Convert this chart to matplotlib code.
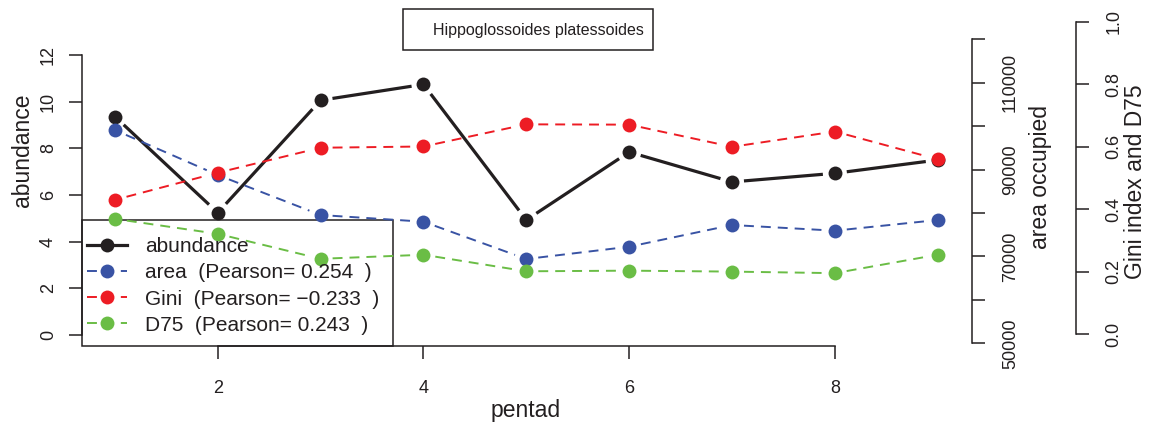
import matplotlib
matplotlib.use("Agg")
import matplotlib.pyplot as plt
from matplotlib.lines import Line2D
from matplotlib.patches import Rectangle
import numpy as np

# ---- data ----
pentad = [1, 2, 3, 4, 5, 6, 7, 8, 9]
abundance = [9.36, 5.24, 10.06, 10.74, 4.93, 7.84, 6.56, 6.93, 7.50]
area = [99100, 88750, 79540, 78000, 69410, 72240, 77240, 75930, 78390]
gini = [0.430, 0.517, 0.597, 0.601, 0.672, 0.671, 0.600, 0.649, 0.560]
d75 = [0.369, 0.321, 0.241, 0.254, 0.201, 0.203, 0.200, 0.195, 0.254]
x_ticks = [2, 4, 6, 8]
abund_ticks = [0, 2, 4, 6, 8, 10, 12]
area_ticks = [50000, 60000, 70000, 80000, 90000, 100000, 110000, 120000]
area_ticklabels = ["50000", "", "70000", "", "90000", "", "110000", ""]
gini_ticks = [0.0, 0.2, 0.4, 0.6, 0.8, 1.0]
gini_ticklabels = ["0.0", "0.2", "0.4", "0.6", "0.8", "1.0"]
legend_labels = ["abundance",
                 "area  (Pearson= 0.254  )",
                 "Gini  (Pearson= \u22120.233  )",
                 "D75  (Pearson= 0.243  )"]
title = "Hippoglossoides platessoides"

BLACK = "#231f20"
BLUE = "#3953a4"
RED = "#ed1c24"
GREEN = "#6abd45"

plt.rcParams["font.family"] = ["Liberation Sans", "DejaVu Sans"]
plt.rcParams["text.color"] = BLACK

W, H = 1152, 430
DPI = 100
fig = plt.figure(figsize=(W / DPI, H / DPI), dpi=DPI)


def px_rect(left, right, bottom, top):
    """pixel box (top-origin) -> figure fraction rect"""
    return [left / W, (H - bottom) / H, (right - left) / W, (bottom - top) / H]


XL, XR = 82.0, 970.6
ax = fig.add_axes(px_rect(XL, XR, 346.2, 43.8))
ax_area = fig.add_axes(px_rect(XL, XR, 343.3, 39.3))
ax_gini = fig.add_axes(px_rect(XL, XR, 334.0, 22.0))

for a in (ax, ax_area, ax_gini):
    a.set_xlim(0.68, 9.32)
    a.patch.set_alpha(0)
    for s in a.spines.values():
        s.set_visible(False)
        s.set_color(BLACK)
        s.set_linewidth(1.1)

ax.set_ylim(-0.48, 12.48)
ax_area.set_ylim(50000, 120000)
ax_gini.set_ylim(0, 1)

TL = 9.6  # tick length in points
FS_TICK = 13

# main axes
ax.spines["left"].set_visible(True)
ax.spines["bottom"].set_visible(True)
ax.spines["left"].set_bounds(0, 12)
ax.spines["bottom"].set_bounds(2, 8)
ax.set_xticks(x_ticks)
ax.set_xticklabels([str(v) for v in x_ticks])
ax.set_yticks(abund_ticks)
ax.set_yticklabels([str(v) for v in abund_ticks])
ax.tick_params(axis="x", length=TL, width=1.1, color=BLACK, pad=14.5,
               labelsize=FS_TICK, labelcolor=BLACK)
ax.tick_params(axis="y", length=TL, width=1.1, color=BLACK, pad=8.5,
               labelsize=FS_TICK, labelcolor=BLACK, labelrotation=90)
for lab in ax.get_yticklabels():
    lab.set_va("center")

# area axes
ax_area.set_xticks([])
ax_area.spines["right"].set_visible(True)
ax_area.spines["right"].set_position(("outward", 1.0))
ax_area.spines["right"].set_bounds(50000, 120000)
ax_area.yaxis.set_ticks_position("right")
ax_area.set_yticks(area_ticks)
ax_area.set_yticklabels(area_ticklabels)
ax_area.tick_params(axis="y", length=TL, width=1.1, color=BLACK, pad=12.0,
                    labelsize=FS_TICK, labelcolor=BLACK, labelrotation=90)
for lab in ax_area.get_yticklabels():
    lab.set_va("center")

# gini axes
ax_gini.set_xticks([])
ax_gini.spines["right"].set_visible(True)
ax_gini.spines["right"].set_position(("outward", (1076 - XR) * 0.72))
ax_gini.spines["right"].set_bounds(0, 1)
ax_gini.yaxis.set_ticks_position("right")
ax_gini.set_yticks(gini_ticks)
ax_gini.set_yticklabels(gini_ticklabels)
ax_gini.tick_params(axis="y", length=9.0, width=1.1, color=BLACK, pad=12.0,
                    labelsize=FS_TICK, labelcolor=BLACK, labelrotation=90)
for lab in ax_gini.get_yticklabels():
    lab.set_va("center")

GAP = 12.0  # pixel gap around points (R type="b")
MS = 10.0


def series(a, xs, ys, color, lw, ls, z):
    pts = a.transData.transform(np.column_stack([xs, ys]))
    inv = a.transData.inverted()
    for i in range(len(pts) - 1):
        p0, p1 = pts[i], pts[i + 1]
        d = p1 - p0
        L = np.hypot(*d)
        if L <= 2 * GAP:
            continue
        u = d / L
        seg = inv.transform(np.array([p0 + u * GAP, p1 - u * GAP]))
        a.plot(seg[:, 0], seg[:, 1], color=color, lw=lw, ls=ls,
               solid_capstyle="butt", dash_capstyle="butt", zorder=z)
    a.plot(xs, ys, ls="none", marker="o", ms=MS, mew=0, color=color,
           zorder=z + 0.5)


DASH = (0, (5.1, 3.6))
series(ax, pentad, abundance, BLACK, 2.3, "-", 3)
series(ax_area, pentad, area, BLUE, 1.4, DASH, 3)
series(ax_gini, pentad, gini, RED, 1.4, DASH, 4)
series(ax_gini, pentad, d75, GREEN, 1.4, DASH, 3)

# legend
handles = [
    Line2D([], [], color=BLACK, lw=2.3, ls="-", marker="o", ms=MS, mew=0),
    Line2D([], [], color=BLUE, lw=1.4, ls=DASH, marker="o", ms=MS, mew=0),
    Line2D([], [], color=RED, lw=1.4, ls=DASH, marker="o", ms=MS, mew=0),
    Line2D([], [], color=GREEN, lw=1.4, ls=DASH, marker="o", ms=MS, mew=0),
]
axh = XR - XL
ayh = 346.2 - 43.8
gh = 334.0 - 22.0
leg = ax_gini.legend(handles, legend_labels, loc="lower left",
                     bbox_to_anchor=((87 - XL) / axh, (334.0 - 334.6) / gh),
                     bbox_transform=ax_gini.transAxes,
                     frameon=False, borderpad=0, borderaxespad=0,
                     handlelength=1.92, handletextpad=0.86,
                     labelspacing=0.34, fontsize=15, numpoints=1)
for t in leg.get_texts():
    t.set_color(BLACK)
leg.set_zorder(10)
frame = Rectangle((0, 0), (393 - XL) / axh, (346.2 - 220) / ayh,
                  transform=ax.transAxes, fill=False, edgecolor=BLACK,
                  lw=1.1, clip_on=False, zorder=10)
ax.add_patch(frame)

# axis labels
fig.text(23 / W, 1 - 150 / H, "abundance", rotation=90, ha="center",
         va="center", fontsize=16.5)
fig.text(526 / W, 1 - 410 / H, "pentad", ha="center", va="center",
         fontsize=16.5)
fig.text(1040 / W, 1 - 177 / H, "area occupied", rotation=90, ha="center",
         va="center", fontsize=16.5)
fig.text(1136 / W, 1 - 182 / H, "Gini index and D75", rotation=90,
         ha="center", va="center", fontsize=16.5)

# title box
fig.patches.append(Rectangle((403 / W, 1 - 50 / H), 250 / W, 41 / H,
                             transform=fig.transFigure, fill=False,
                             edgecolor=BLACK, lw=1.1))
fig.text(433 / W, 1 - 30 / H, title, ha="left", va="center", fontsize=11.5)

fig.savefig("out.png", dpi=DPI)
